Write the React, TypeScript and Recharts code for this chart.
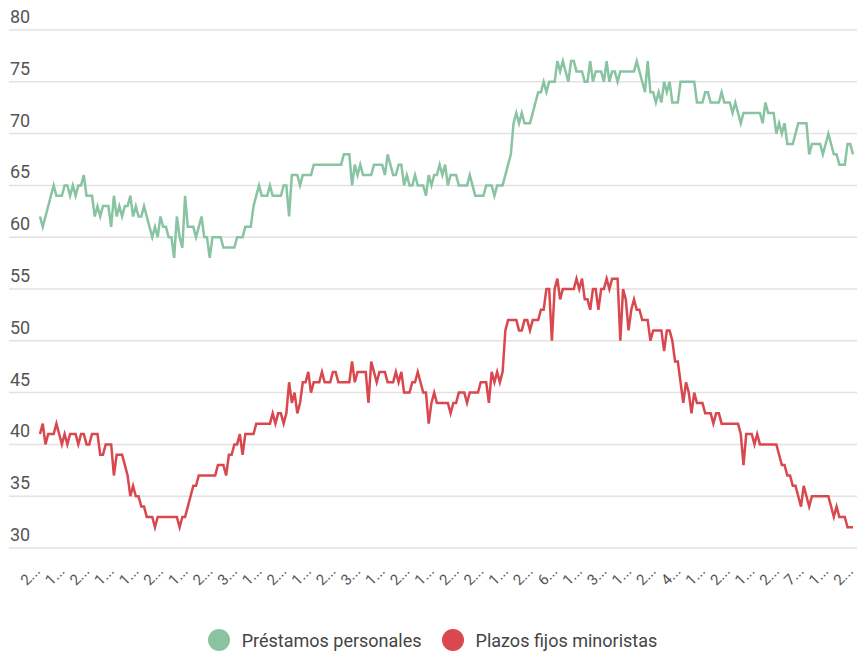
import { LineChart, Line, XAxis, YAxis, CartesianGrid, Legend } from "recharts";

// first characters of the (truncated) date labels on the x axis
const tickLabels = [
  "2", "1", "2", "1", "1", "2", "1", "2", "3", "1", "2", "1", "2", "3", "1", "2", "1",
  "2", "2", "1", "2", "6", "1", "3", "1", "2", "4", "1", "2", "1", "2", "7", "1", "2",
];

const prestamos = [
  62, 61, 62, 63, 64, 65, 64, 64, 64, 65,
  65, 64, 65, 64, 65, 65, 66, 64, 64, 64,
  62, 63, 62, 63, 63, 63, 61, 64, 62, 63,
  62, 63, 63, 64, 62, 63, 62, 62, 63, 62,
  61, 60, 61, 60, 62, 61, 61, 60, 60, 58,
  62, 60, 59, 64, 61, 61, 61, 60, 61, 62,
  60, 60, 58, 60, 60, 60, 60, 59, 59, 59,
  59, 59, 60, 60, 60, 61, 61, 61, 63, 64,
  65, 64, 64, 64, 65, 64, 64, 64, 64, 65,
  65, 62, 66, 66, 66, 65, 66, 66, 66, 66,
  67, 67, 67, 67, 67, 67, 67, 67, 67, 67,
  67, 68, 68, 68, 65, 67, 66, 67, 66, 66,
  66, 66, 67, 67, 67, 67, 66, 68, 67, 66,
  66, 67, 67, 65, 66, 65, 65, 66, 65, 65,
  65, 64, 66, 65, 66, 66, 67, 66, 67, 65,
  66, 66, 66, 65, 65, 65, 65, 66, 65, 64,
  64, 64, 64, 65, 65, 65, 64, 65, 65, 65,
  66, 67, 68, 71, 72, 71, 72, 71, 71, 71,
  72, 73, 74, 74, 75, 74, 75, 75, 75, 77,
  76, 77, 76, 75, 77, 77, 76, 76, 76, 75,
  75, 77, 75, 76, 76, 76, 75, 77, 75, 76,
  76, 75, 76, 76, 76, 76, 76, 76, 77, 76,
  75, 74, 77, 74, 74, 73, 74, 73, 75, 74,
  75, 73, 73, 73, 75, 75, 75, 75, 75, 75,
  73, 73, 73, 74, 74, 73, 73, 73, 73, 74,
  73, 73, 73, 72, 73, 72, 71, 72, 72, 72,
  72, 72, 72, 72, 71, 73, 72, 72, 72, 70,
  71, 70, 71, 69, 69, 69, 70, 71, 71, 71,
  71, 68, 69, 69, 69, 69, 68, 69, 70, 69,
  68, 68, 67, 67, 67, 69, 69, 68,
];

const plazos = [
  41, 42, 40, 41, 41, 41, 42, 41, 40, 41,
  40, 41, 41, 41, 40, 41, 41, 40, 40, 41,
  41, 41, 39, 39, 40, 40, 40, 37, 39, 39,
  39, 38, 37, 35, 36, 35, 35, 34, 34, 33,
  33, 33, 32, 33, 33, 33, 33, 33, 33, 33,
  33, 32, 33, 33, 34, 35, 36, 36, 37, 37,
  37, 37, 37, 37, 37, 38, 38, 38, 37, 39,
  39, 40, 40, 41, 39, 41, 41, 41, 41, 42,
  42, 42, 42, 42, 42, 43, 42, 43, 43, 42,
  43, 46, 44, 45, 43, 44, 46, 46, 47, 45,
  46, 46, 46, 47, 46, 46, 46, 47, 47, 46,
  46, 46, 46, 46, 48, 46, 47, 47, 47, 47,
  44, 48, 47, 46, 47, 47, 47, 46, 46, 46,
  47, 46, 47, 45, 45, 45, 46, 46, 47, 46,
  45, 45, 42, 44, 45, 44, 44, 44, 44, 44,
  43, 44, 44, 45, 45, 45, 44, 45, 45, 45,
  45, 46, 46, 46, 44, 47, 46, 47, 46, 47,
  51, 52, 52, 52, 52, 51, 51, 52, 52, 51,
  52, 52, 52, 53, 53, 55, 55, 50, 55, 56,
  54, 55, 55, 55, 55, 55, 56, 55, 56, 54,
  54, 53, 55, 55, 53, 55, 55, 56, 55, 56,
  56, 56, 50, 55, 54, 51, 53, 54, 53, 53,
  52, 52, 52, 50, 51, 51, 51, 51, 49, 51,
  51, 50, 48, 48, 46, 44, 46, 45, 43, 45,
  44, 44, 44, 43, 43, 43, 42, 43, 43, 42,
  42, 42, 42, 42, 42, 42, 41, 38, 41, 41,
  41, 40, 41, 40, 40, 40, 40, 40, 40, 40,
  39, 38, 38, 37, 37, 36, 36, 35, 34, 36,
  35, 34, 35, 35, 35, 35, 35, 35, 35, 34,
  33, 34, 33, 33, 33, 32, 32, 32,
];

const yTicks = [30, 35, 40, 45, 50, 55, 60, 65, 70, 75, 80];

const TICK_EVERY = 9;
const GREEN = "#88c4a2";
const RED = "#d9474f";

const series = [
  { key: "prestamos", name: "Préstamos personales", color: GREEN },
  { key: "plazos", name: "Plazos fijos minoristas", color: RED },
];

const data = prestamos.map((p, i) => ({ i, prestamos: p, plazos: plazos[i] }));
const xTicks = tickLabels.map((_, k) => k * TICK_EVERY);

function YTick({ y, payload }: any) {
  return (
    <text x={10} y={y - 7} fill="#555" fontSize={18} fontFamily="Roboto" textAnchor="start">
      {payload.value}
    </text>
  );
}

function XTick({ x, y, payload }: any) {
  const label = tickLabels[Math.round(payload.value / TICK_EVERY)];
  const tx = x + 1;
  const ty = y + 22;
  return (
    <text
      x={tx}
      y={ty}
      textAnchor="end"
      fill="#555"
      fontSize={15}
      fontFamily="Roboto"
      transform={`rotate(-45 ${tx} ${ty})`}
    >
      {label}...
    </text>
  );
}

function LegendRow() {
  return (
    <div
      style={{
        display: "flex",
        justifyContent: "center",
        alignItems: "center",
        height: 26,
        fontFamily: "Roboto",
        fontSize: 18,
        color: "#444",
        paddingLeft: 8,
      }}
    >
      {series.map((s) => (
        <span key={s.key} style={{ display: "flex", alignItems: "center", margin: "0 10px" }}>
          <span
            style={{
              width: 22,
              height: 22,
              borderRadius: 11,
              background: s.color,
              marginRight: 12,
              display: "inline-block",
            }}
          />
          {s.name}
        </span>
      ))}
    </div>
  );
}

export default function App() {
  return (
    <div style={{ width: 859, height: 653 }}>
      <style>{"body{margin:0}"}</style>
      <LineChart width={859} height={653} data={data} margin={{ top: 30, right: 2, bottom: 0, left: 0 }}>
        <CartesianGrid vertical={false} stroke="#e2e2e2" strokeWidth={1.5} />
        <XAxis
          dataKey="i"
          type="number"
          domain={[0, prestamos.length - 1]}
          ticks={xTicks}
          interval={0}
          padding={{ left: 31, right: 4 }}
          axisLine={false}
          tickLine={false}
          tickSize={0}
          height={79}
          tick={<XTick />}
        />
        <YAxis
          domain={[30, 80]}
          ticks={yTicks}
          interval={0}
          width={9}
          axisLine={false}
          tickLine={false}
          tick={<YTick />}
        />
        <Legend verticalAlign="bottom" wrapperStyle={{ bottom: 0 }} content={() => <LegendRow />} />
        {series.map((s) => (
          <Line
            key={s.key}
            dataKey={s.key}
            name={s.name}
            stroke={s.color}
            strokeWidth={2.5}
            dot={false}
            type="linear"
            isAnimationActive={false}
          />
        ))}
      </LineChart>
    </div>
  );
}
